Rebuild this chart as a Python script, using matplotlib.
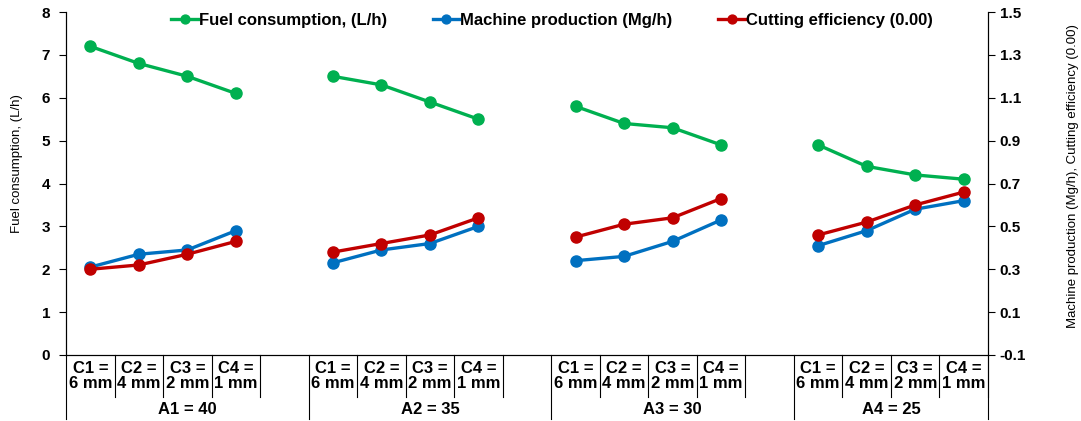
import numpy as np
import matplotlib
matplotlib.use("Agg")
import matplotlib.pyplot as plt
import matplotlib.transforms as mtransforms

plt.rcParams['font.family'] = ['Liberation Sans', 'DejaVu Sans']

groups = ["A1 = 40", "A2 = 35", "A3 = 30", "A4 = 25"]
cuts = ["C1 =\n6 mm", "C2 =\n4 mm", "C3 =\n2 mm", "C4 =\n1 mm"]

fuel = [[7.2, 6.8, 6.5, 6.1],
        [6.5, 6.3, 5.9, 5.5],
        [5.8, 5.4, 5.3, 4.9],
        [4.9, 4.4, 4.2, 4.1]]
production = [[0.31, 0.37, 0.39, 0.48],
              [0.33, 0.39, 0.42, 0.50],
              [0.34, 0.36, 0.43, 0.53],
              [0.41, 0.48, 0.58, 0.62]]
efficiency = [[0.30, 0.32, 0.37, 0.43],
              [0.38, 0.42, 0.46, 0.54],
              [0.45, 0.51, 0.54, 0.63],
              [0.46, 0.52, 0.60, 0.66]]

green = "#00B050"
blue = "#0070C0"
red = "#C00000"

fig = plt.figure(figsize=(10.81, 4.21), dpi=100)
ax = fig.add_axes([66 / 1081, 1 - 355 / 421, (988 - 66) / 1081, (355 - 12) / 421])
ax2 = ax.twinx()

slot = 5  # 4 categories + 1 gap per group
lw = 2.4
ms = 8
for g in range(len(groups)):
    xs = [g * slot + c for c in range(len(cuts))]
    l1, = ax.plot(xs, fuel[g], color=green, lw=lw, marker="o", ms=ms,
                  label="Fuel consumption, (L/h)" if g == 0 else None)
    l2, = ax2.plot(xs, production[g], color=blue, lw=lw, marker="o", ms=ms,
                   label="Machine production (Mg/h)" if g == 0 else None)
    l3, = ax2.plot(xs, efficiency[g], color=red, lw=lw, marker="o", ms=ms,
                   label="Cutting efficiency (0.00)" if g == 0 else None)
    if g == 0:
        handles = [l1, l2, l3]

nslots = slot * len(groups) - 1
ax.set_xlim(-0.5, nslots - 0.5)
ax.set_ylim(0, 8)
ax.set_yticks(np.arange(0, 9, 1))
ax2.set_ylim(-0.1, 1.5)
ax2.set_yticks(np.round(np.arange(-0.1, 1.51, 0.2), 1))
ax2.set_yticklabels([f"{v:.1f}" for v in np.arange(-0.1, 1.51, 0.2)])

for a in (ax, ax2):
    a.spines["top"].set_visible(False)
    a.tick_params(axis="y", direction="out", length=5, width=0.8, labelsize=11)
    for lab in a.get_yticklabels():
        lab.set_fontweight("bold")
ax.tick_params(axis="y", pad=6.5)
ax2.tick_params(axis="y", pad=3.5)
ax.set_xticks([])

ax.set_ylabel("Fuel consumption, (L/h)", fontsize=9.5)
ax.yaxis.set_label_coords(-0.047, 0.557)
ax2.set_ylabel("Machine production (Mg/h), Cutting efficiency (0.00)", fontsize=9.5)
ax2.yaxis.set_label_coords(1.0855, 0.522)

# multi-level category axis
trans = mtransforms.blended_transform_factory(ax.transData, fig.transFigure)
y_axis = 1 - 355 / 421
y_inner = 1 - 397 / 421
y_outer = 1 - 419 / 421
for g, name in enumerate(groups):
    start = g * slot - 0.5
    ax.plot([start, start], [y_axis, y_outer], transform=trans, color="black",
            lw=0.8, clip_on=False)
    for c, lab in enumerate(cuts):
        x = g * slot + c
        ax.plot([x + 0.5, x + 0.5], [y_axis, y_inner], transform=trans,
                color="black", lw=0.8, clip_on=False)
        ax.text(x, 1 - 376 / 421, lab, transform=trans, ha="center", va="center",
                fontsize=12, fontweight="bold", linespacing=1.0)
    ncat = slot if g < len(groups) - 1 else len(cuts)
    ax.text(start + ncat / 2, 1 - 409 / 421, name, transform=trans, ha="center",
            va="center", fontsize=12, fontweight="bold")
end = nslots - 0.5
ax.plot([end, end], [y_axis, y_outer], transform=trans, color="black",
        lw=0.8, clip_on=False)

leg = ax2.legend(handles=handles, loc="upper center", bbox_to_anchor=(0.527, 1.04),
                 ncol=3, frameon=False, handlelength=1.6, handletextpad=0.05,
                 columnspacing=2.75, markerscale=0.8,
                 prop={"weight": "bold", "size": 12})

fig.savefig("out.png", dpi=100)
